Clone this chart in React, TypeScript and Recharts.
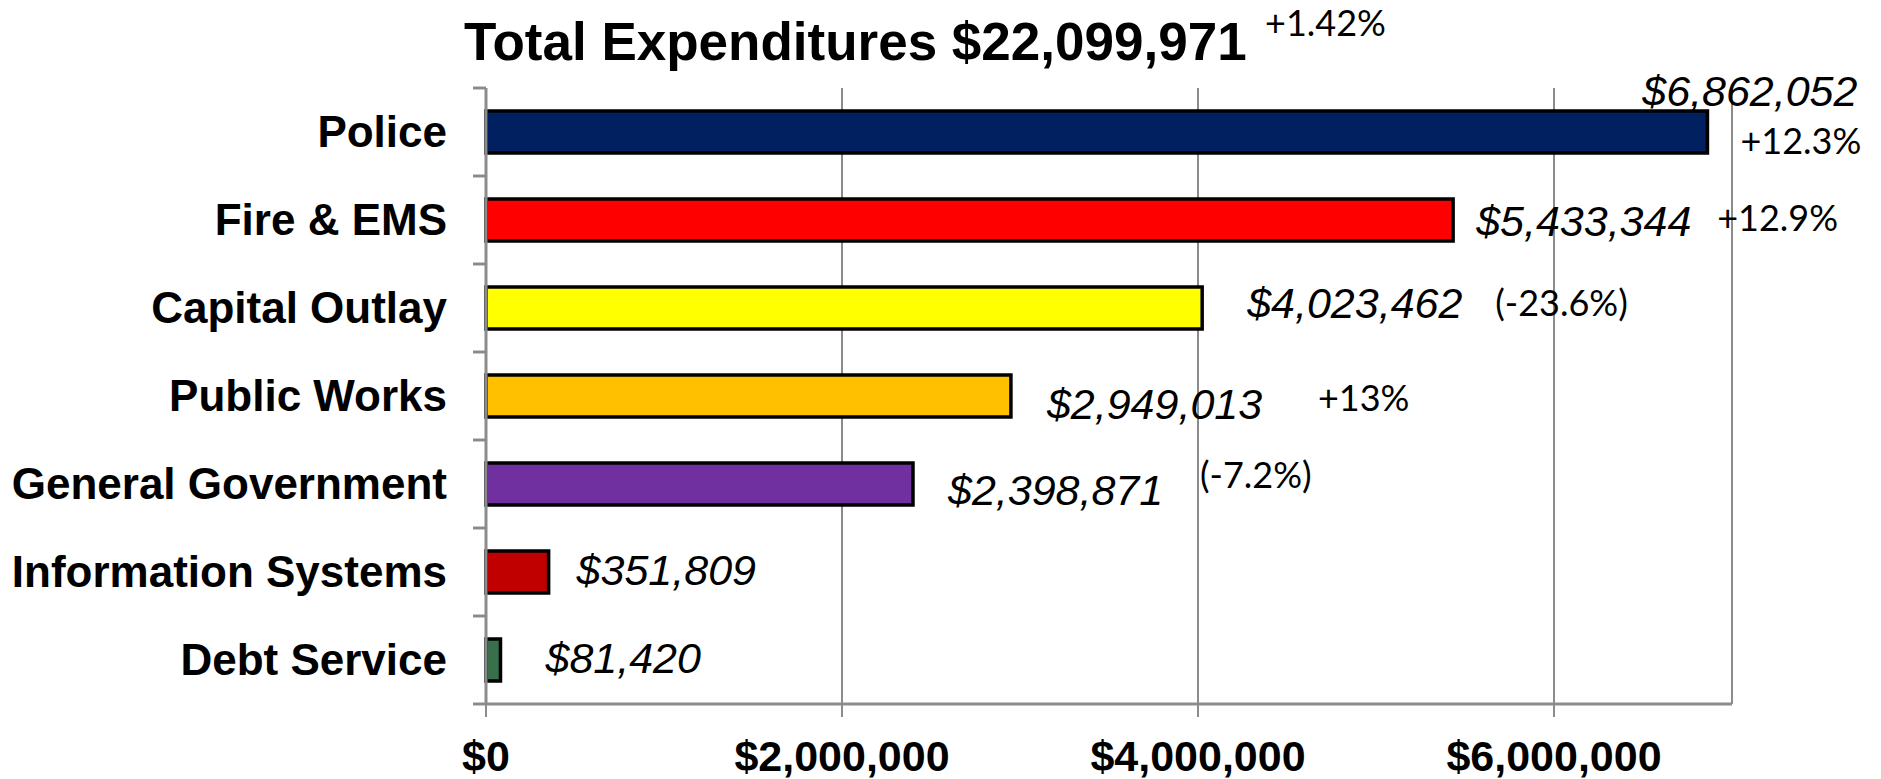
import { Bar, BarChart, CartesianGrid, Cell, LabelList, XAxis, YAxis } from "recharts"

const categories = ["Police", "Fire & EMS", "Capital Outlay", "Public Works", "General Government", "Information Systems", "Debt Service"]
const amounts = [6862052, 5433344, 4023462, 2949013, 2398871, 351809, 81420]
const changes = ["+12.3%", "+12.9%", "(-23.6%)", "+13%", "(-7.2%)", "", ""]
const barColors = ["#002060", "#FF0000", "#FFFF00", "#FFC000", "#7030A0", "#C00000", "#37704A"]
const xTicks = [0, 2000000, 4000000, 6000000]
const totalLabel = "Total Expenditures $22,099,971"
const totalChange = "+1.42%"

// hand placed label nudges (dx from bar end, dy from bar middle), like the original slide
const valueNudge = [[150, -41], [23, 1], [45, -5], [36, 8], [35, 6], [28, -2], [45, -2]]
const changeNudge = [[33, 9], [264, -2], [293, -5], [307, 2], [287, -9], [0, 0], [0, 0]]

const data = categories.map((name, i) => ({ name, amount: amounts[i] }))

const ARIAL = "'Liberation Sans', Arial, sans-serif"
const AXIS = "#8c8c8c"
const Y_TICK = 13
const Y_GAP = 26

const money = (v: number) => "$" + v.toLocaleString("en-US")

function CategoryTick(props: any) {
  const { x, y, payload, index } = props
  const half = payload.offset ?? 44
  const lineX = x + Y_GAP
  return (
    <g>
      <line x1={lineX} x2={lineX + Y_TICK} y1={y - half} y2={y - half} stroke={AXIS} strokeWidth={3} />
      {index === categories.length - 1 && (
        <line x1={lineX} x2={lineX + Y_TICK} y1={y + half} y2={y + half} stroke={AXIS} strokeWidth={3} />
      )}
      <text x={x} y={y} dy="0.35em" textAnchor="end" fontFamily={ARIAL} fontWeight="bold" fontSize={44} fill="#000">
        {payload.value}
      </text>
    </g>
  )
}

function MoneyTick(props: any) {
  const { x, y, payload } = props
  return (
    <text x={x} y={y + 54} textAnchor="middle" fontFamily={ARIAL} fontWeight="bold" fontSize={43} fill="#000">
      {money(payload.value)}
    </text>
  )
}

function BarLabel(props: any) {
  const { x, y, width, height } = props
  const i = props.index ?? amounts.indexOf(props.value)
  const end = Number(x) + Number(width)
  const mid = Number(y) + Number(height) / 2
  const [vdx, vdy] = valueNudge[i]
  const [cdx, cdy] = changeNudge[i]
  return (
    <g>
      <text x={end + vdx} y={mid + vdy + 15} textAnchor={i === 0 ? "end" : "start"} fontFamily={ARIAL} fontStyle="italic" fontSize={43} fill="#000">
        {money(amounts[i])}
      </text>
      {changes[i] && (
        <text x={end + cdx} y={mid + cdy + 13} fontFamily="Lato, sans-serif" fontSize={36} fill="#000">
          {changes[i]}
        </text>
      )}
    </g>
  )
}

export default function App() {
  return (
    <div style={{ position: "absolute", left: 0, top: 0, width: 1881, height: 779, background: "#fff" }}>
      <BarChart width={1881} height={779} data={data} layout="vertical" margin={{ top: 88, right: 149, bottom: 0, left: 0 }}>
        <CartesianGrid horizontal={false} stroke={AXIS} strokeWidth={2} />
        <XAxis
          type="number"
          domain={[0, 7000000]}
          ticks={xTicks}
          height={75}
          tickSize={13}
          tickMargin={0}
          axisLine={{ stroke: AXIS, strokeWidth: 3 }}
          tickLine={{ stroke: AXIS, strokeWidth: 2 }}
          tick={<MoneyTick />}
        />
        <YAxis
          type="category"
          dataKey="name"
          width={486}
          interval={0}
          tickSize={Y_TICK}
          tickMargin={Y_GAP}
          tickLine={false}
          axisLine={{ stroke: AXIS, strokeWidth: 3 }}
          tick={<CategoryTick />}
        />
        <Bar dataKey="amount" barSize={42} stroke="#000" strokeWidth={3.5} isAnimationActive={false}>
          {data.map((d, i) => (
            <Cell key={d.name} fill={barColors[i]} />
          ))}
          <LabelList dataKey="amount" content={<BarLabel />} />
        </Bar>
      </BarChart>
      <svg width={1881} height={779} style={{ position: "absolute", left: 0, top: 0, pointerEvents: "none" }}>
        <text x={464} y={60} fontFamily={ARIAL} fontWeight="bold" fontSize={53} fill="#000">
          {totalLabel}
        </text>
        <text x={1265} y={36} fontFamily="Lato, sans-serif" fontSize={36} fill="#000">
          {totalChange}
        </text>
      </svg>
    </div>
  )
}
